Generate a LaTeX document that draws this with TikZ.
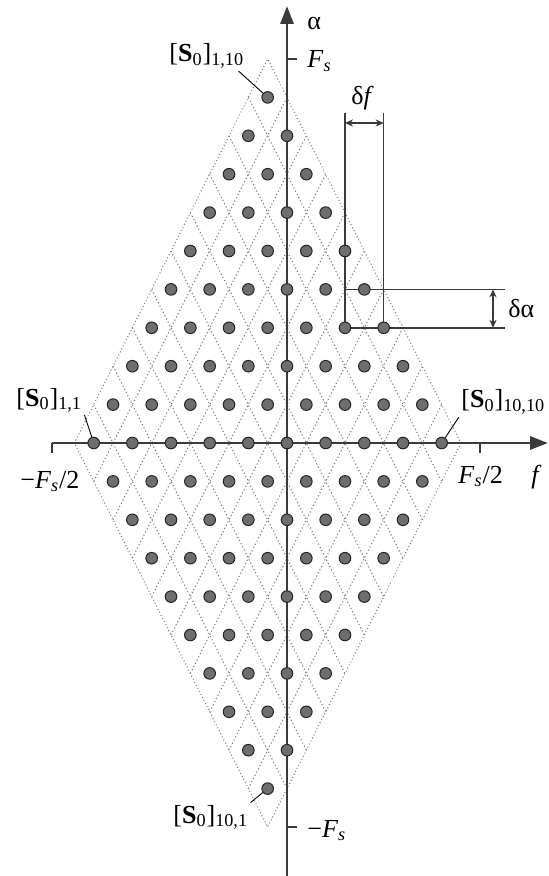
\documentclass[tikz,border=0pt]{standalone}
\usepackage{fontspec}
\setmainfont{Liberation Serif}
\usepackage{tikz}
\usetikzlibrary{arrows.meta,calc,backgrounds}
\usepackage{xcolor}
\definecolor{axisgray}{HTML}{3A3A3A}
\definecolor{dotgray}{HTML}{6E6E6E}
\definecolor{gridgray}{HTML}{7A7A7A}

\begin{document}
\begin{tikzpicture}[x=0.5pt,y=-0.5pt,>={Stealth[length=4pt,width=3.6pt]},font=\fontsize{13}{15}\selectfont,
  axis/.style={draw=axisgray,line width=1.45pt},
  tick/.style={draw=axisgray,line width=0.7pt},
  dot/.style={circle,fill=dotgray,draw=black!85,line width=0.5pt,minimum size=5.8pt,inner sep=0pt},
  cellgrid/.style={draw=gridgray,line width=0.5pt,dash pattern=on 0.6pt off 1.2pt},
  rim/.style={draw=gridgray,line width=0.7pt,line cap=round,dash pattern=on 0pt off 1.7pt},
  dimline/.style={draw=axisgray,line width=0.75pt},
  lead/.style={draw=black,line width=0.45pt},
  lab/.style={anchor=base west,inner sep=1pt}]
\useasboundingbox (0,0) rectangle (549,876);
\def\hx{19.33}\def\ay{38.4}
\foreach \i in {1,...,10} \foreach \j in {1,...,10}
  \node[dot] (s-\i-\j) at ({287+(\i+\j-12)*\hx},{443+(\i-\j)*\ay}) {};
\coordinate (L) at ({287-11*\hx},443);
\coordinate (T) at ({287-\hx},{443-10*\ay});
\coordinate (R) at ({287+9*\hx},443);
\coordinate (B) at ({287-\hx},{443+10*\ay});
\coordinate (f0) at (52,443);
\coordinate (f1) at (548,443);
\coordinate (a0) at (287,876);
\coordinate (a1) at (287,6);
\coordinate (dtop) at (0,113);
\coordinate (dend) at (505,0);
\coordinate (dfy) at (0,123);
\coordinate (dax) at (493,0);
\begin{scope}[on background layer]
\foreach \k in {1,...,9} {
  \draw[cellgrid] ($(L)+({\k*\hx},{\k*\ay})$) -- ++({10*\hx},{-10*\ay});
  \draw[cellgrid] ($(L)+({\k*\hx},{-\k*\ay})$) -- ++({10*\hx},{10*\ay});
}
\draw[rim] (L) -- (T) -- (R) -- (B) -- cycle;
\draw[axis,-{Triangle[length=9pt,width=6.5pt]}] (f0) -- (f1);
\draw[axis,-{Triangle[length=9pt,width=6.5pt]}] (a0) -- (a1);
\draw[tick] (f0) -- ++(0,10);
\draw[tick] (480,443) -- ++(0,10);
\draw[tick] (287,{443-10*\ay}) -- ++(10,0);
\draw[tick] (287,{443+10*\ay}) -- ++(10,0);
\draw[dimline] (s-6-9.center) -- (s-6-9 |- dtop);
\draw[dimline] (s-7-10.center) -- (s-7-10 |- dtop);
\draw[dimline] (s-6-9 |- s-6-10) -- (dend |- s-6-10);
\draw[dimline] (s-6-9.center) -- (dend |- s-6-9);
\draw[dimline,<->] (s-6-9 |- dfy) -- (s-7-10 |- dfy);
\draw[dimline,<->] (dax |- s-6-10) -- (dax |- s-6-9);
\end{scope}
\node[lab] (alpha) at (305,30) {α};
\node[lab] (fs) at (305,68) {\textit{F}\textsubscript{\textit{s}}};
\node[lab] (mfs) at (305,837) {−\textit{F}\textsubscript{\textit{s}}};
\node[lab] (mhalf) at (18,488) {−\textit{F}\textsubscript{\textit{s}}/2};
\node[lab] (half) at (456,483) {\textit{F}\textsubscript{\textit{s}}/2};
\node[lab] (flab) at (529,483) {\textit{f}};
\node[lab] (df) at (349,105) {δ\textit{f}};
\node[lab] (dalpha) at (506,318) {δα};
\node[lab] (lab110) at (167,62) {[\textbf{S}\textsubscript{0}]\textsubscript{1,10}};
\node[lab] (lab11) at (14,406) {[\textbf{S}\textsubscript{0}]\textsubscript{1,1}};
\node[lab] (lab1010) at (459,408) {[\textbf{S}\textsubscript{0}]\textsubscript{10,10}};
\node[lab] (lab101) at (171,823) {[\textbf{S}\textsubscript{0}]\textsubscript{10,1}};
\draw[lead] ([xshift=-4pt]lab110.south east) -- (s-1-10);
\draw[lead] (lab11.south east) -- (s-1-1);
\draw[lead] (lab1010.south west) -- (s-10-10);
\draw[lead] (lab101.north east) -- (s-10-1);
\end{tikzpicture}
\end{document}
